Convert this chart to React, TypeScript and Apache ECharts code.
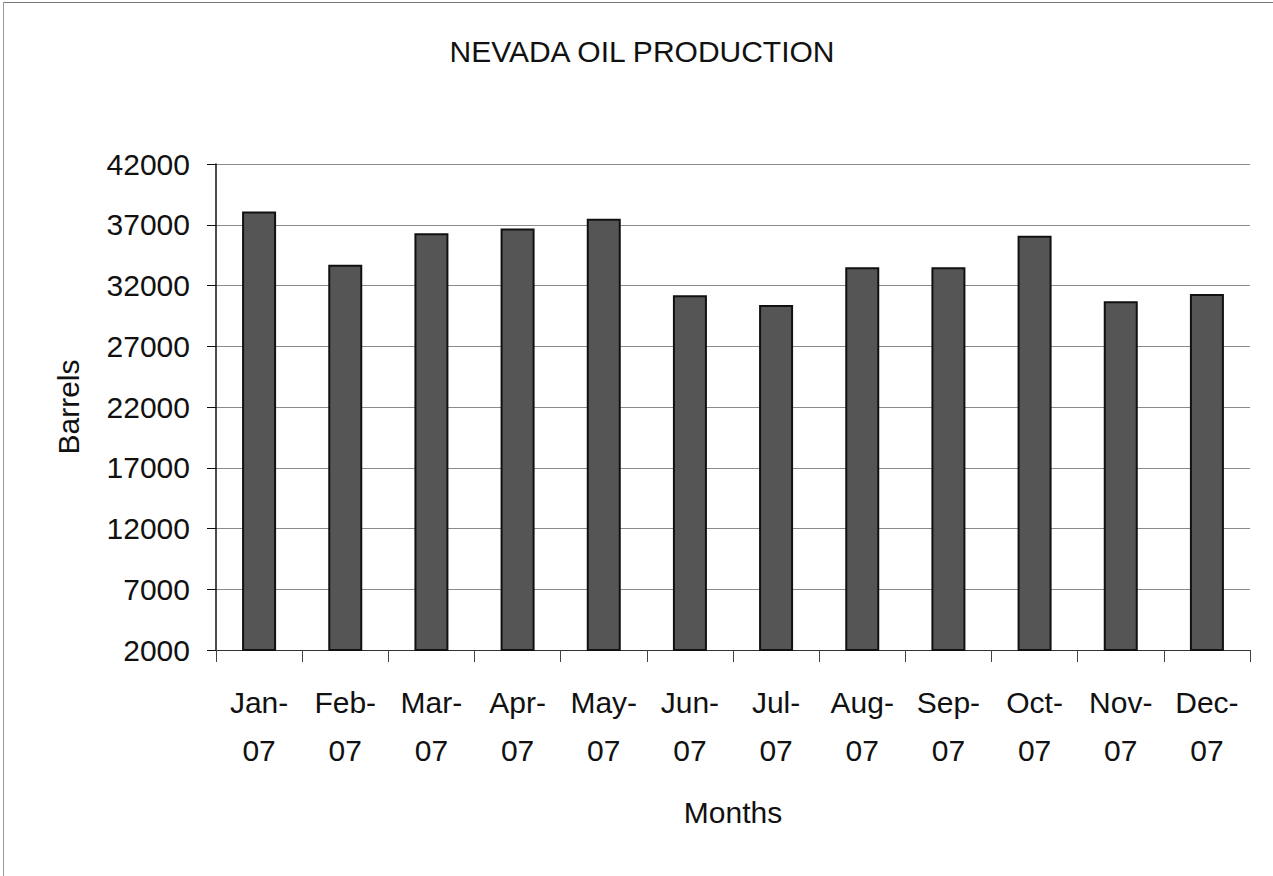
import React, { useEffect, useRef } from "react";
import * as echarts from "echarts";

const categories = ["Jan-\n07", "Feb-\n07", "Mar-\n07", "Apr-\n07", "May-\n07", "Jun-\n07", "Jul-\n07", "Aug-\n07", "Sep-\n07", "Oct-\n07", "Nov-\n07", "Dec-\n07"];
const barrels = [38100, 33700, 36300, 36700, 37500, 31200, 30400, 33500, 33500, 36100, 30700, 31300];
const yMin = 2000;
const yMax = 42000;
const yStep = 5000;

const FONT = "'Liberation Sans', Arial, sans-serif";

export default function App() {
  const ref = useRef<HTMLDivElement>(null);
  useEffect(() => {
    if (!ref.current) return;
    const chart = echarts.init(ref.current, undefined, { renderer: "svg" });
    chart.setOption({
      animation: false,
      backgroundColor: "#ffffff",
      textStyle: { fontFamily: FONT },
      graphic: [
        { type: "line", shape: { x1: 3, y1: 2.5, x2: 1273, y2: 2.5 }, style: { stroke: "#777", lineWidth: 1 } },
        { type: "line", shape: { x1: 3.5, y1: 2, x2: 3.5, y2: 876 }, style: { stroke: "#999", lineWidth: 1 } },
        {
          type: "text",
          x: 642,
          y: 51,
          style: {
            text: "NEVADA OIL PRODUCTION",
            fontFamily: FONT,
            fontSize: 30,
            fill: "#111",
            textAlign: "center",
            textVerticalAlign: "middle",
          },
        },
      ],
      grid: { left: 216, right: 23, top: 164, bottom: 226 },
      xAxis: {
        type: "category",
        data: categories,
        name: "Months",
        nameLocation: "middle",
        nameGap: 147,
        nameTextStyle: { fontFamily: FONT, fontSize: 30, color: "#111" },
        axisLine: { show: true, lineStyle: { color: "#333", width: 1 } },
        axisTick: { show: true, alignWithLabel: false, length: 12, lineStyle: { color: "#444" } },
        axisLabel: { fontFamily: FONT, fontSize: 30, color: "#111", lineHeight: 48, margin: 28, interval: 0 },
        splitLine: { show: false },
      },
      yAxis: {
        type: "value",
        min: yMin,
        max: yMax,
        interval: yStep,
        name: "Barrels",
        nameLocation: "middle",
        nameGap: 133,
        nameRotate: 90,
        nameTextStyle: { fontFamily: FONT, fontSize: 30, color: "#111" },
        axisLine: { show: true, lineStyle: { color: "#111", width: 1.5 } },
        axisTick: { show: true, length: 9, lineStyle: { color: "#111" } },
        axisLabel: { fontFamily: FONT, fontSize: 30, color: "#111", margin: 26, formatter: (v: number) => String(v) },
        splitLine: { show: true, lineStyle: { color: "#8a8a8a", width: 1 } },
      },
      series: [
        {
          type: "bar",
          data: barrels,
          barWidth: 34,
          itemStyle: { color: "#555555", borderColor: "#111", borderWidth: 2 },
        },
      ],
    });
    return () => chart.dispose();
  }, []);
  return <div ref={ref} style={{ position: "fixed", left: 0, top: 0, width: 1273, height: 876 }} />;
}
